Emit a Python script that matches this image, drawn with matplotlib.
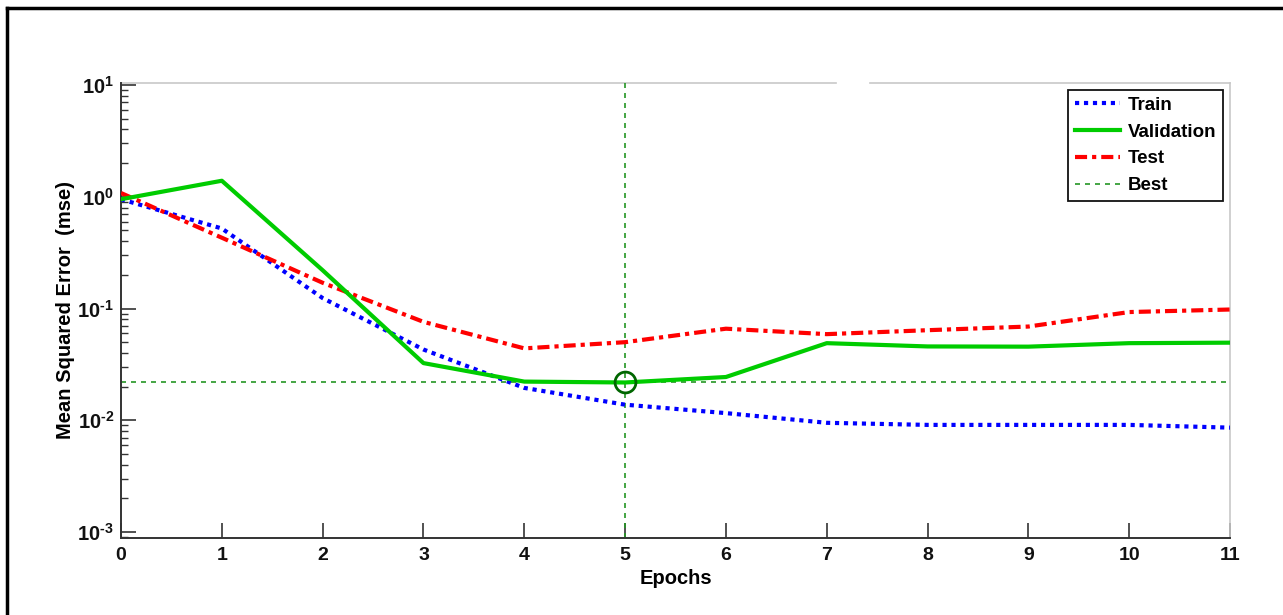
import math
import matplotlib
matplotlib.use("Agg")
import matplotlib.pyplot as plt
from matplotlib.lines import Line2D
from matplotlib.ticker import LogLocator, FuncFormatter, MultipleLocator

plt.rcParams['font.family'] = ['Liberation Sans', 'DejaVu Sans']
plt.rcParams['mathtext.fontset'] = 'custom'
plt.rcParams['mathtext.rm'] = 'Liberation Sans:bold'
plt.rcParams['mathtext.bf'] = 'Liberation Sans:bold'
plt.rcParams['mathtext.default'] = 'bf'

# performance per epoch
epochs = list(range(12))
train_mse = [0.95, 0.52, 0.124, 0.043, 0.0195, 0.0138, 0.0116, 0.0095, 0.0091, 0.0091, 0.0091, 0.0086]
val_mse = [0.95, 1.39, 0.22, 0.0325, 0.0222, 0.0218, 0.0244, 0.049, 0.0458, 0.0456, 0.049, 0.0495]
test_mse = [1.08, 0.43, 0.17, 0.076, 0.044, 0.050, 0.066, 0.059, 0.064, 0.069, 0.093, 0.098]
best_epoch = 5
best_mse = 0.0218

fig = plt.figure(figsize=(12.83, 6.15), dpi=100)
ax = fig.add_axes([121 / 1283, 0.1257, (1230 - 121) / 1283, 0.8655 - 0.1257])

train_ls = (0, (1, 1.15))
test_ls = (0, (2.9, 1.2, 1, 1.2))
best_ls = (0, (3, 3))

ax.plot(epochs, train_mse, color='#0000ff', lw=3, ls=train_ls,
        dash_capstyle='butt', label='Train', zorder=3)
ax.plot(epochs, val_mse, color='#00cc00', lw=3, ls='-', label='Validation', zorder=4)
ax.plot(epochs, test_mse, color='#ff0000', lw=3, ls=test_ls,
        dash_capstyle='butt', label='Test', zorder=3)

best_style = dict(color='#259625', lw=1.2, ls=best_ls, zorder=2)
ax.axhline(best_mse, **best_style)
ax.axvline(best_epoch, **best_style)
ax.plot([best_epoch], [best_mse], 'o', ms=15, mfc='none', mec='#006600', mew=2, zorder=5)


def pow10_label(v, pos):
    e = round(math.log10(v))
    return r'$10^{\text{%d}}$' % e


ax.set_yscale('log')
ax.set_xlim(0, 11)
ax.set_ylim(10 ** -3.05, 10 ** 1.02)
ax.xaxis.set_major_locator(MultipleLocator(1))
ax.yaxis.set_major_locator(LogLocator(base=10, numticks=10))
ax.yaxis.set_minor_locator(LogLocator(base=10, subs=range(2, 10), numticks=20))
ax.yaxis.set_major_formatter(FuncFormatter(pow10_label))

ax.tick_params(which='both', direction='in', top=False, right=False, colors='#333333')
ax.tick_params(which='major', length=11, width=1.2, labelcolor='#111111')
ax.tick_params(which='minor', length=5, width=1.0)
ax.tick_params(axis='x', pad=7, labelsize=14)
ax.tick_params(axis='y', pad=5, labelsize=14.5)
for lab in ax.get_xticklabels():
    lab.set_fontweight('bold')

ax.spines['left'].set_color('#333333')
ax.spines['bottom'].set_color('#333333')
ax.spines['left'].set_linewidth(1.4)
ax.spines['bottom'].set_linewidth(1.4)
ax.spines['right'].set_color('#c8c8c8')
ax.spines['right'].set_linewidth(1.2)
ax.spines['top'].set_visible(False)
# top edge drawn in two pieces
for x0, x1 in [(0, (836 - 121) / 1109), ((870 - 121) / 1109, 1)]:
    ax.plot([x0, x1], [1, 1], transform=ax.transAxes, color='#c8c8c8', lw=1.2,
            clip_on=False, zorder=1)

ax.set_xlabel('Epochs', fontsize=14.5, fontweight='bold', labelpad=3)
ax.set_ylabel('Mean Squared Error  (mse)', fontsize=14.5, fontweight='bold', labelpad=2)

handles = [
    Line2D([], [], color='#0000ff', lw=3, ls=train_ls, dash_capstyle='butt'),
    Line2D([], [], color='#00cc00', lw=3, ls='-'),
    Line2D([], [], color='#ff0000', lw=3, ls=test_ls, dash_capstyle='butt'),
    Line2D([], [], color='#259625', lw=1.2, ls=best_ls),
]
leg = ax.legend(handles, ['Train', 'Validation', 'Test', 'Best'], loc='upper right',
                bbox_to_anchor=(0.9937, 0.984), fancybox=False, framealpha=1,
                edgecolor='#111111', handlelength=2.4, handletextpad=0.45,
                labelspacing=0.52, borderpad=0.35, borderaxespad=0,
                prop={'weight': 'bold', 'size': 13.5})
leg.get_frame().set_linewidth(1.3)

# outer frame on the left and top
fig.add_artist(Line2D([7 / 1283, 7 / 1283], [0, 1 - 7.5 / 615], color='black', lw=2.5))
fig.add_artist(Line2D([7 / 1283, 1], [1 - 7.5 / 615, 1 - 7.5 / 615], color='black', lw=2.5))

fig.savefig('out.png', dpi=100)
